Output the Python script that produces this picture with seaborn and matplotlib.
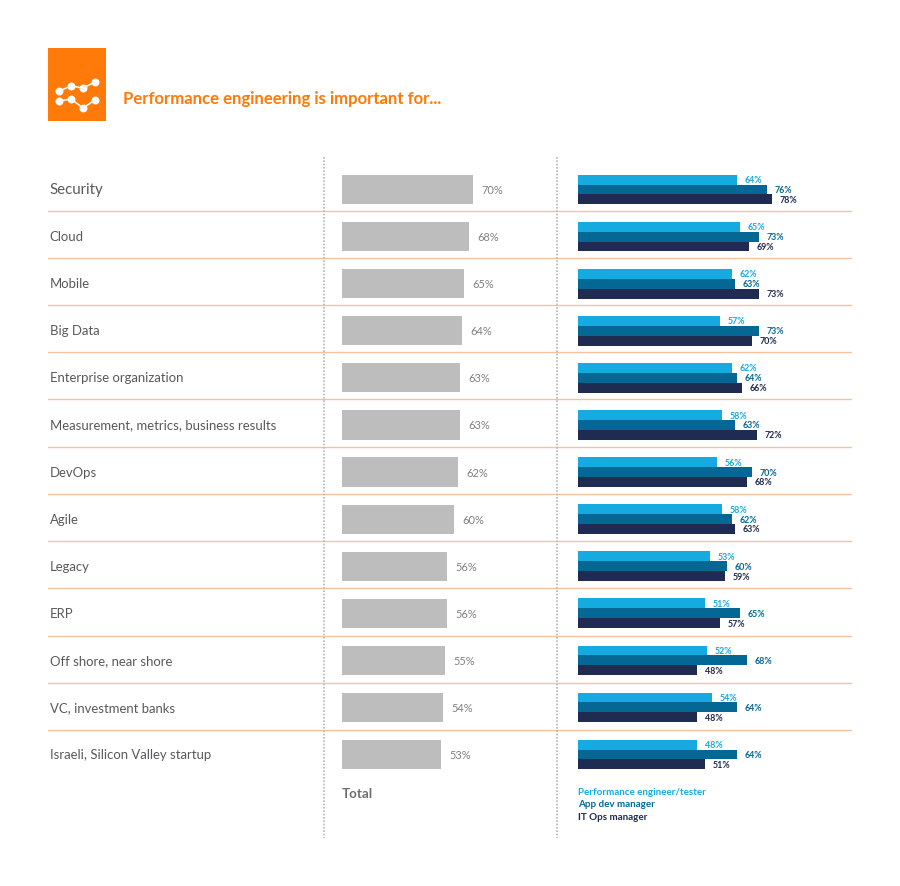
import matplotlib
matplotlib.use("Agg")
import matplotlib.pyplot as plt
import seaborn as sns
import pandas as pd

categories = ["Security", "Cloud", "Mobile", "Big Data", "Enterprise organization",
              "Measurement, metrics, business results", "DevOps", "Agile", "Legacy", "ERP",
              "Off shore, near shore", "VC, investment banks", "Israeli, Silicon Valley startup"]
total = [70, 68, 65, 64, 63, 63, 62, 60, 56, 56, 55, 54, 53]
perf_engineer = [64, 65, 62, 57, 62, 58, 56, 58, 53, 51, 52, 54, 48]
app_dev = [76, 73, 63, 73, 64, 63, 70, 62, 60, 65, 68, 64, 64]
it_ops = [78, 69, 73, 70, 66, 72, 68, 63, 59, 57, 48, 48, 51]
roles = ["Performance engineer/tester", "App dev manager", "IT Ops manager"]

ORANGE = "#FF7A08"
role_colors = ["#15ABE0", "#056894", "#1F2B50"]

sns.set_theme(style="white")
plt.rcParams["font.family"] = ["Lato", "DejaVu Sans"]

W, H = 900, 887
fig = plt.figure(figsize=(W / 100, H / 100), dpi=100, facecolor="white")

def px_axes(left, top, right, bottom):
    return fig.add_axes([left / W, 1 - bottom / H, (right - left) / W, (bottom - top) / H])

# overlay in pixel coords for table rules, icon and text
bg = px_axes(0, 0, W, H)
bg.set_xlim(0, W)
bg.set_ylim(H - 1, -1)
bg.axis("off")

row_top, row_h = 166, 47.08
for i in range(1, len(categories)):
    y = 210.5 + (i - 1) * 47.23
    bg.plot([48, 851], [y, y], color="#F9C0A0", lw=1.0, zorder=1)
for x in [324, 557]:
    bg.plot([x, x], [157, 838], color="#B5B5B5", lw=1.2, ls=(0, (1, 1)), zorder=2)

for i, cat in enumerate(categories):
    bg.text(49.5, row_top + (i + 0.5) * row_h - 0.5, cat, color="#58595B", va="center", ha="left",
            fontsize=10.8 if i == 0 else 9.45)

# icon
bg.add_patch(plt.Rectangle((48, 48), 58, 73, color=ORANGE, lw=0))
bg.plot([59, 71, 83, 95], [91, 86, 88, 82], color="white", lw=1.1, marker="o", ms=4.7)
bg.plot([59, 71, 83, 95], [101, 99, 108, 100], color="white", lw=1.1, marker="o", ms=4.7)
bg.text(123, 98, "Performance engineering is important for...", color=ORANGE,
        fontsize=12.1, fontweight="bold", va="center", ha="left")

bg.text(341.5, 793, "Total", color="#6D6E71", fontsize=9.6, fontweight="bold", va="center")
for y, role, c in zip([792, 804, 817], roles, role_colors):
    bg.text(578, y, role, color=c, fontsize=7.15, fontweight="bold", va="center")

# total bars
df_total = pd.DataFrame({"category": categories, "value": total})
ax_total = px_axes(342, row_top + 1, 556, row_top + 1 + row_h * len(categories))
ax_total.patch.set_alpha(0)
sns.barplot(data=df_total, y="category", x="value", order=categories, color="#BDBDBD",
            saturation=1, width=0.62, linewidth=0, ax=ax_total)
ax_total.set_xlim(0, 214 / 1.87)
ax_total.bar_label(ax_total.containers[0], fmt="%g%%", padding=6, color="#808080", fontsize=7.9)
ax_total.axis("off")

# bars by role
df_roles = pd.DataFrame({"category": categories, roles[0]: perf_engineer,
                         roles[1]: app_dev, roles[2]: it_ops})
df_roles = df_roles.melt(id_vars="category", var_name="role", value_name="value")
ax_roles = px_axes(578, row_top + 1, 851, row_top + 1 + row_h * len(categories))
ax_roles.patch.set_alpha(0)
sns.barplot(data=df_roles, y="category", x="value", hue="role", order=categories, hue_order=roles,
            palette=role_colors, saturation=1, width=0.63, gap=0, linewidth=0, legend=False, ax=ax_roles)
ax_roles.set_xlim(0, 273 / 2.485)
for container, c in zip(ax_roles.containers, role_colors):
    ax_roles.bar_label(container, fmt="%g%%", padding=5.5, color=c, fontsize=6.4, fontweight="bold")
ax_roles.axis("off")

fig.savefig("out.png", dpi=100, facecolor="white")
